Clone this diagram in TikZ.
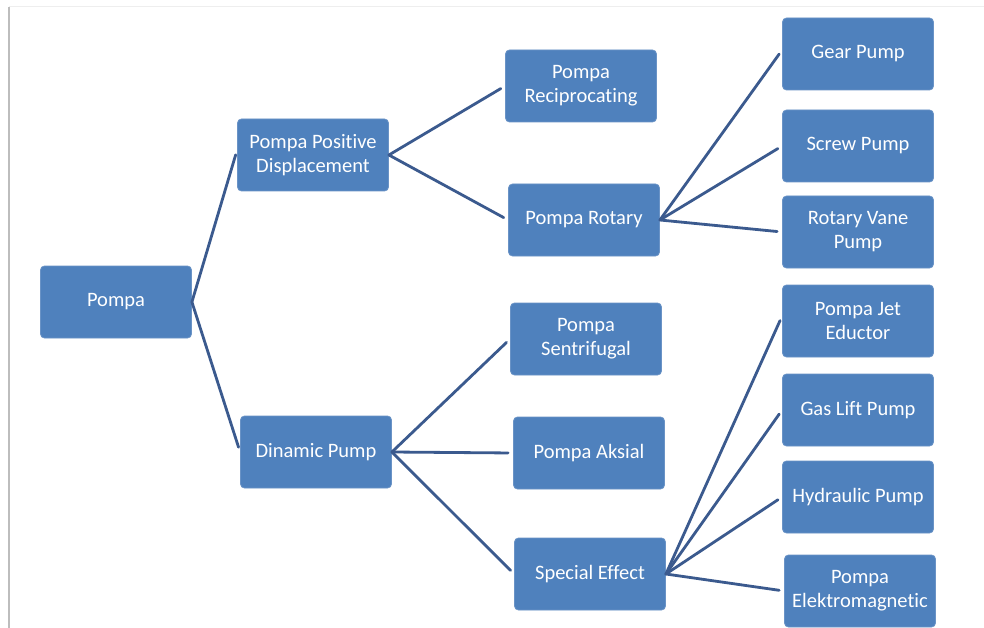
\documentclass[tikz,border=0pt]{standalone}
\usepackage{fontspec}
\setmainfont{Carlito}[Ligatures=NoCommon]
\definecolor{boxfill}{HTML}{4F81BD}
\definecolor{boxline}{HTML}{6A93C6}
\definecolor{connline}{HTML}{3B5A8E}
\definecolor{framegray}{HTML}{BDBDBD}
\definecolor{frametop}{HTML}{EEEEEE}
\begin{document}
\begin{tikzpicture}[x=1pt,y=-1pt,
  box/.style={draw=boxline,line width=0.8pt,fill=boxfill,rounded corners=4pt,
    minimum width=151pt,minimum height=72pt,text=white,align=center,
    font=\fontsize{20.5}{24}\selectfont,inner sep=2pt},
  conn/.style={draw=connline,line width=2.8pt,shorten >=5pt,line cap=round}]
\useasboundingbox (0,0) rectangle (984,628);
\fill[white] (0,0) rectangle (984,628);
\coordinate (ftl) at (9,7);
\coordinate (ftr) at (984,7);
\coordinate (fbl) at (9,628);
\draw[frametop,line width=1pt] (ftl) -- (ftr);
\draw[framegray,line width=1.5pt] (ftl) -- (fbl);

\node[box] (pompa) at (116,302) {Pompa};
\node[box] (ppd) at (313,155) {Pompa Positive\\Displacement};
\node[box] (dyn) at (316,452) {Dinamic Pump};
\node[box] (recip) at (581,86) {Pompa\\Reciprocating};
\node[box] (rot) at (584,220) {Pompa Rotary};
\node[box] (sent) at (586,339) {Pompa\\Sentrifugal};
\node[box] (aks) at (589,453) {Pompa Aksial};
\node[box] (spec) at (590,574) {Special Effect};
\node[box] (gear) at (858,54) {Gear Pump};
\node[box] (screw) at (858,146) {Screw Pump};
\node[box] (vane) at (858,232) {Rotary Vane\\Pump};
\node[box] (jet) at (858,321) {Pompa Jet\\Eductor};
\node[box] (gas) at (858,410) {Gas Lift Pump};
\node[box] (hyd) at (858,497) {Hydraulic Pump};
\node[box] (elek) at (860,591) {Pompa\\Elektromagnetic};

\draw[conn] (pompa.east) -- ([yshift=5pt]ppd.west);
\draw[conn] (pompa.east) -- (dyn.west);
\draw[conn] (ppd.east) -- (recip.west);
\draw[conn] (ppd.east) -- (rot.west);
\draw[conn] (rot.east) -- ([yshift=4pt]gear.west);
\draw[conn] (rot.east) -- (screw.west);
\draw[conn] (rot.east) -- (vane.west);
\draw[conn] (dyn.east) -- (sent.west);
\draw[conn] (dyn.east) -- (aks.west);
\draw[conn] (dyn.east) -- (spec.west);
\draw[conn] (spec.east) -- ([yshift=5pt]jet.west);
\draw[conn] (spec.east) -- (gas.west);
\draw[conn] (spec.east) -- (hyd.west);
\draw[conn] (spec.east) -- (elek.west);
\end{tikzpicture}
\end{document}
